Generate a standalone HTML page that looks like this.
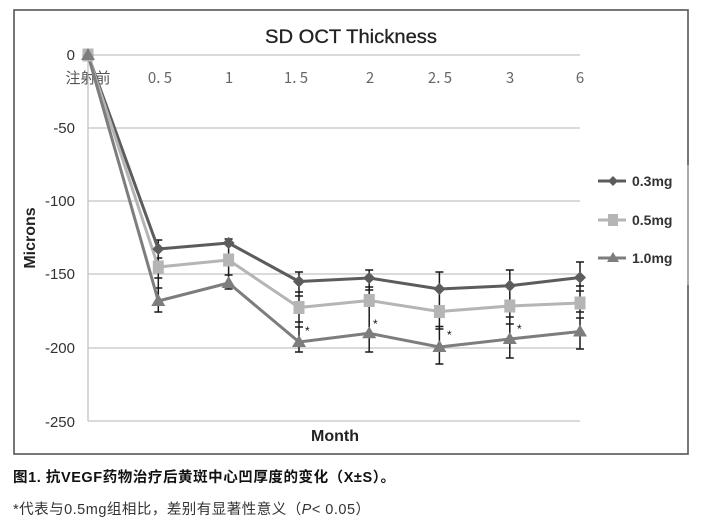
<!DOCTYPE html>
<html>
<head>
<meta charset="utf-8">
<style>
  html,body{margin:0;padding:0;background:#fff;}
  svg{display:block;}
  .ytl{font-family:"Liberation Sans",sans-serif;font-size:15px;fill:#333;text-anchor:end;}
  .xtl{font-family:"Noto Sans CJK SC","Liberation Sans",sans-serif;font-size:15px;fill:#666;text-anchor:middle;}
  .leg{font-family:"Liberation Sans",sans-serif;font-size:14px;font-weight:bold;fill:#333;}
</style>
</head>
<body>
<svg width="705" height="521" viewBox="0 0 705 521" xmlns="http://www.w3.org/2000/svg">
  <rect x="0" y="0" width="705" height="521" fill="#fff"/>
  <!-- frame -->
  <rect x="14" y="10" width="674" height="444" fill="none" stroke="#555" stroke-width="1.6"/>
  <line x1="688" y1="165" x2="688" y2="285" stroke="#aaa" stroke-width="2"/>

  <!-- title -->
  <text x="351" y="43" text-anchor="middle" font-family="Liberation Sans, sans-serif" font-size="19.5" fill="#222" textLength="172" lengthAdjust="spacingAndGlyphs" stroke="#222" stroke-width="0.3">SD OCT Thickness</text>

  <!-- gridlines -->
  <g stroke="#c4c4c4" stroke-width="1.3">
    <line x1="88" y1="55" x2="580" y2="55"/>
    <line x1="88" y1="128" x2="580" y2="128"/>
    <line x1="88" y1="201" x2="580" y2="201"/>
    <line x1="88" y1="274" x2="580" y2="274"/>
    <line x1="88" y1="348" x2="580" y2="348"/>
    <line x1="88" y1="421" x2="580" y2="421"/>
    <line x1="88" y1="55" x2="88" y2="421"/>
  </g>

  <!-- y tick labels -->
  <text class="ytl" x="75" y="60">0</text>
  <text class="ytl" x="75" y="133">-50</text>
  <text class="ytl" x="75" y="206">-100</text>
  <text class="ytl" x="75" y="279">-150</text>
  <text class="ytl" x="75" y="353">-200</text>
  <text class="ytl" x="75" y="427">-250</text>

  <!-- x tick labels -->
  <text x="88" y="83" text-anchor="middle" font-family="Noto Sans CJK SC, sans-serif" font-size="15" fill="#555">注射前</text>
  <text class="xtl" x="160" y="83">0. 5</text>
  <text class="xtl" x="229" y="83">1</text>
  <text class="xtl" x="296" y="83">1. 5</text>
  <text class="xtl" x="370" y="83">2</text>
  <text class="xtl" x="440" y="83">2. 5</text>
  <text class="xtl" x="510" y="83">3</text>
  <text class="xtl" x="580" y="83">6</text>

  <!-- axis titles -->
  <text x="0" y="0" transform="translate(35,238) rotate(-90)" text-anchor="middle" font-family="Liberation Sans, sans-serif" font-size="16" font-weight="bold" fill="#222">Microns</text>
  <text x="335" y="441" text-anchor="middle" font-family="Liberation Sans, sans-serif" font-size="16" font-weight="bold" fill="#222">Month</text>

  <!-- error bars -->
  <g stroke="#1a1a1a" stroke-width="1.5" fill="none">
    <line x1="158.3" y1="240" x2="158.3" y2="312"/>
    <path d="M154.3 240h8M154.3 258h8M154.3 278h8M154.3 288h8M154.3 312h8"/>
    <line x1="228.6" y1="239" x2="228.6" y2="289"/>
    <path d="M224.6 239h8M224.6 275h8M224.6 289h8"/>
    <line x1="299" y1="272" x2="299" y2="352"/>
    <path d="M295 272h8M295 292h8M295 296h8M295 322h8M295 327h8M295 352h8"/>
    <line x1="369.2" y1="270" x2="369.2" y2="352"/>
    <path d="M365.2 270h8M365.2 287h8M365.2 290h8M365.2 352h8"/>
    <line x1="439.4" y1="272" x2="439.4" y2="364"/>
    <path d="M435.4 272h8M435.4 326.5h8M435.4 329h8M435.4 364h8"/>
    <line x1="509.8" y1="270" x2="509.8" y2="358"/>
    <path d="M505.8 270h8M505.8 317h8M505.8 324h8M505.8 358h8"/>
    <line x1="580" y1="262" x2="580" y2="349"/>
    <path d="M576 262h8M576 286h8M576 291h8M576 312h8M576 318h8M576 349h8"/>
  </g>

  <!-- series lines -->
  <polyline fill="none" stroke="#5c5c5c" stroke-width="3" stroke-linejoin="round"
    points="88,55 158.3,249 228.6,243 299,281.5 369.2,278 439.4,289 509.8,285.7 580,277.5"/>
  <polyline fill="none" stroke="#b5b5b5" stroke-width="3" stroke-linejoin="round"
    points="88,55 158.3,267 228.6,260 299,307.5 369.2,300.5 439.4,311.5 509.8,306 580,303"/>
  <polyline fill="none" stroke="#7d7d7d" stroke-width="3" stroke-linejoin="round"
    points="88,55 158.3,301 228.6,283 299,342 369.2,333.3 439.4,347 509.8,339 580,331.5"/>

  <!-- markers 0.3mg diamonds -->
  <g fill="#5c5c5c">
    <path d="M88 49l6 6-6 6-6-6z"/>
    <path d="M158.3 243l6 6-6 6-6-6z"/>
    <path d="M228.6 237l6 6-6 6-6-6z"/>
    <path d="M299 275.5l6 6-6 6-6-6z"/>
    <path d="M369.2 272l6 6-6 6-6-6z"/>
    <path d="M439.4 283l6 6-6 6-6-6z"/>
    <path d="M509.8 279.7l6 6-6 6-6-6z"/>
    <path d="M580 271.5l6 6-6 6-6-6z"/>
  </g>
  <!-- markers 0.5mg squares -->
  <g fill="#b5b5b5">
    <rect x="82.5" y="48.5" width="11" height="13"/>
    <rect x="152.8" y="260.5" width="11" height="13"/>
    <rect x="223.1" y="253.5" width="11" height="13"/>
    <rect x="293.5" y="301" width="11" height="13"/>
    <rect x="363.7" y="294" width="11" height="13"/>
    <rect x="433.9" y="305" width="11" height="13"/>
    <rect x="504.3" y="299.5" width="11" height="13"/>
    <rect x="574.5" y="296.5" width="11" height="13"/>
  </g>
  <!-- markers 1.0mg triangles -->
  <g fill="#7d7d7d">
    <path d="M88 48l7 12h-14z"/>
    <path d="M158.3 294l7 12h-14z"/>
    <path d="M228.6 276l7 12h-14z"/>
    <path d="M299 335l7 12h-14z"/>
    <path d="M369.2 326.3l7 12h-14z"/>
    <path d="M439.4 340l7 12h-14z"/>
    <path d="M509.8 332l7 12h-14z"/>
    <path d="M580 324.5l7 12h-14z"/>
  </g>

  <!-- stars -->
  <g font-family="Liberation Sans, sans-serif" font-size="12" fill="#111">
    <text x="305" y="335">*</text>
    <text x="373" y="328">*</text>
    <text x="447" y="339">*</text>
    <text x="517" y="333">*</text>
  </g>

  <!-- legend -->
  <line x1="598" y1="181" x2="626" y2="181" stroke="#5c5c5c" stroke-width="3"/>
  <path d="M613 176l5 5-5 5-5-5z" fill="#5c5c5c"/>
  <text class="leg" x="632" y="186">0.3mg</text>
  <line x1="598" y1="220" x2="626" y2="220" stroke="#b5b5b5" stroke-width="3"/>
  <rect x="608" y="214" width="10" height="12" fill="#b5b5b5"/>
  <text class="leg" x="632" y="225">0.5mg</text>
  <line x1="598" y1="258" x2="626" y2="258" stroke="#7d7d7d" stroke-width="3"/>
  <path d="M613 252l6 10h-12z" fill="#7d7d7d"/>
  <text class="leg" x="632" y="263">1.0mg</text>

  <!-- captions -->
  <text x="13" y="482" font-family="Liberation Sans, Noto Sans CJK SC, sans-serif" font-size="14.5" font-weight="bold" fill="#111" textLength="382" lengthAdjust="spacing">图1. 抗VEGF药物治疗后黄斑中心凹厚度的变化（X±S）。</text>
  <text x="13" y="514" font-family="Liberation Sans, Noto Sans CJK SC, sans-serif" font-size="14.5" fill="#333" textLength="357" lengthAdjust="spacing">*代表与0.5mg组相比，差别有显著性意义（<tspan font-style="italic">P</tspan>&lt; 0.05）</text>
</svg>
</body>
</html>
